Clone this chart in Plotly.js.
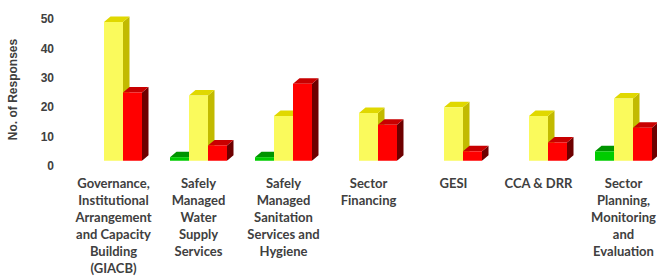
<!DOCTYPE html>
<html>
<head>
<meta charset="utf-8">
<script src="https://cdn.plot.ly/plotly-3.0.1.min.js"></script>
<style>html,body{margin:0;padding:0;background:#fff;}#chart{width:657px;height:276px;}</style>
</head>
<body>
<div id="chart"></div>
<script>
// ---- data ----
const categories = [
  "Governance,<br>Institutional<br>Arrangement<br>and Capacity<br>Building<br>(GIACB)",
  "Safely<br>Managed<br>Water<br>Supply<br>Services",
  "Safely<br>Managed<br>Sanitation<br>Services and<br>Hygiene",
  "Sector<br>Financing",
  "GESI",
  "CCA & DRR",
  "Sector<br>Planning,<br>Monitoring<br>and<br>Evaluation"
];
const greenValues  = [0, 3, 3, 0, 0, 0, 5];
const yellowValues = [49, 24, 17, 18, 20, 17, 23];
const redValues    = [25, 7, 28, 14, 5, 8, 13];
const yTickValues  = [0, 10, 20, 30, 40, 50];

// ---- styling constants ----
const BAR_W = 0.2235;      // bar width in category units
const DEPTH_X = 0.0765;    // 3D depth, x units
const DEPTH_Y = 1.87;      // 3D depth, value units
const FLOOR = 1.77;        // visual floor height of the 3D front faces
const X_RANGE = [-0.5, 6.394];
const Y_RANGE = [0, 52.04];

const series = [
  {vals: greenValues,  front: '#00CC00', top: '#009400', side: '#005C00'},
  {vals: yellowValues, front: '#FAFA5C', top: '#E0D800', side: '#C2BA00'},
  {vals: redValues,    front: '#FF0000', top: '#C80000', side: '#6E0000'}
];

const idx = categories.map((_, i) => i);
const traces = [];

// 3D top and side faces (drawn underneath the front faces)
series.forEach((s, k) => {
  const off = (-1.5 + k) * BAR_W;
  const sideX = [], sideY = [], topX = [], topY = [];
  s.vals.forEach((v, i) => {
    if (v <= 0) return;
    const L = i + off, R = L + BAR_W;
    sideX.push(R, R, R + DEPTH_X, R + DEPTH_X, null);
    sideY.push(FLOOR, v, v + DEPTH_Y, FLOOR + DEPTH_Y, null);
    topX.push(L, L + DEPTH_X, R + DEPTH_X, R, null);
    topY.push(v, v + DEPTH_Y, v + DEPTH_Y, v, null);
  });
  traces.push({type: 'scatter', mode: 'lines', x: sideX, y: sideY, fill: 'toself',
    fillcolor: s.side, line: {width: 0, color: s.side}, hoverinfo: 'skip', showlegend: false,
    xaxis: 'x', yaxis: 'y'});
  traces.push({type: 'scatter', mode: 'lines', x: topX, y: topY, fill: 'toself',
    fillcolor: s.top, line: {width: 0, color: s.top}, hoverinfo: 'skip', showlegend: false,
    xaxis: 'x', yaxis: 'y'});
});

// front faces as real bars (on an overlaid subplot so they sit on top)
series.forEach((s, k) => {
  traces.push({type: 'bar', x: idx, y: s.vals, width: BAR_W, offset: (-1.5 + k) * BAR_W,
    marker: {color: s.front, line: {width: 0}}, hoverinfo: 'y', showlegend: false,
    xaxis: 'x2', yaxis: 'y2'});
});

const txtColor = '#404040';
const layout = {
  width: 657, height: 276,
  margin: {l: 71, r: 0, t: 13, b: 110},
  paper_bgcolor: '#ffffff', plot_bgcolor: '#ffffff',
  barmode: 'overlay',
  showlegend: false,
  xaxis: {
    range: X_RANGE, tickvals: idx, ticktext: categories,
    showgrid: false, zeroline: false, showline: false, ticks: '',
    tickangle: 0, ticklabelstandoff: 8,
    tickfont: {family: 'Lato, "Liberation Sans", sans-serif', size: 13, weight: 'bold', color: txtColor},
    fixedrange: true
  },
  yaxis: {
    range: Y_RANGE, tickvals: yTickValues,
    showgrid: false, zeroline: false, showline: false, ticks: '',
    ticklabelstandoff: 16,
    tickfont: {family: '"Liberation Sans", Arial, sans-serif', size: 12, weight: 'bold', color: txtColor},
    title: {text: 'No. of Responses', standoff: 20,
      font: {family: '"Liberation Sans", Arial, sans-serif', size: 12, weight: 'bold', color: txtColor}},
    fixedrange: true
  },
  xaxis2: {overlaying: 'x', range: X_RANGE, visible: false, fixedrange: true},
  yaxis2: {overlaying: 'y', range: Y_RANGE, visible: false, fixedrange: true},
  shapes: [{type: 'rect', xref: 'paper', x0: 0, x1: 1, yref: 'y', y0: 0, y1: FLOOR,
    fillcolor: '#ffffff', line: {width: 0}, layer: 'above'}]
};

Plotly.newPlot('chart', traces, layout, {displayModeBar: false, staticPlot: true});
</script>
</body>
</html>
